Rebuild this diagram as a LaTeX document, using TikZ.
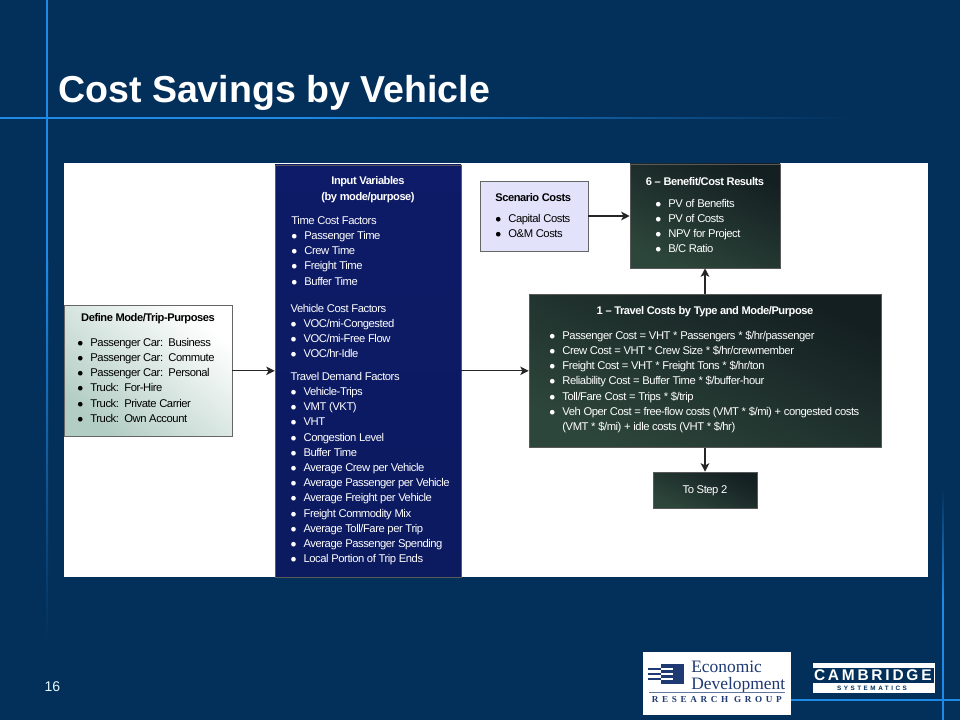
\documentclass[tikz,border=0pt]{standalone}
\usepackage{fontspec}
\setmainfont{Liberation Sans}
\newfontfamily\bodyfont[LetterSpace=-4]{Liberation Sans}
\newfontfamily\edrfont[LetterSpace=40]{Liberation Serif}
\newfontfamily\serffont{Liberation Serif}
\newfontfamily\cambfont[LetterSpace=18]{Liberation Sans}
\newfontfamily\sysfont[LetterSpace=40]{Liberation Sans}
\usetikzlibrary{arrows.meta, positioning}
\definecolor{slidebg}{HTML}{03305A}
\definecolor{rule}{HTML}{1F8AE6}
\definecolor{logonavy}{HTML}{1F3A72}
\definecolor{darktop}{HTML}{141F21}
\definecolor{darkbot}{HTML}{2D463B}
\definecolor{bluetop}{HTML}{0D1B68}
\definecolor{bluemid}{HTML}{1A2CA6}
\definecolor{bluebot}{HTML}{0C1A60}
\definecolor{palegreen}{HTML}{B2CDC3}
\definecolor{lavender}{HTML}{E2E3FB}
\newcommand{\itm}[1]{\makebox[9.2pt][l]{$\bullet$}#1}
\newcommand{\itmcont}[1]{\hspace*{9.2pt}#1}

\begin{document}
\begin{tikzpicture}[
    darkbox/.style={draw=gray!70!black, top color=darktop, bottom color=darkbot, shading angle=-25, inner sep=0pt},
    bluebox/.style={draw=gray!70!black, top color=bluetop, middle color=bluemid, bottom color=bluebot, inner sep=0pt},
    greenbox/.style={draw=gray!80!black, top color=white, bottom color=palegreen, shading angle=-40, inner sep=0pt},
    lavbox/.style={draw=gray!80!black, fill=lavender, inner sep=0pt},
    head/.style={font=\bodyfont\fontsize{7.9}{11.4}\selectfont\bfseries, align=center, text=#1, inner sep=0pt},
    listtxt/.style={font=\bodyfont\fontsize{8}{10.8}\selectfont, align=left, anchor=north west, text=#1, inner sep=0pt},
    arr/.style={-{Stealth[length=6pt, width=6pt, inset=1.5pt]}, line width=0.9pt, black!85},
]

% Background and rules
\fill[slidebg] (0, 0) rectangle (24, 18);
\fill[rule] (1.15, 18) rectangle (1.2, 11.5);
\shade[top color=rule, bottom color=slidebg] (1.15, 11.5) rectangle (1.2, 2);
\fill[rule] (0, 15.07) rectangle (7.5, 15.02);
\shade[left color=rule, right color=slidebg] (7.5, 15.06) rectangle (21.3, 15.03);
\shade[bottom color=rule, top color=slidebg] (23.56, 3) rectangle (23.59, 5.8);
\fill[rule] (23.56, 0) rectangle (23.59, 3);
\fill[rule] (19.5, 0.515) rectangle (24, 0.485);

% Title
\node[font=\fontsize{26.7}{30}\selectfont\bfseries, text=white, anchor=west, inner sep=0pt] (title) at (1.45, 15.68) {Cost Savings by Vehicle};
\node[font=\fontsize{10}{12}\selectfont, text=white!90!cyan, inner sep=0pt] (pagenum) at (1.31, 0.83) {16};

% White panel
\node[fill=white, minimum width=21.6cm, minimum height=10.35cm, inner sep=0pt] (panel) at (12.4, 8.75) {};

% Boxes
\node[greenbox, minimum width=4.2cm, minimum height=3.275cm] (modes) at (3.7, 8.73) {};
\node[bluebox, minimum width=4.65cm, minimum height=10.3cm] (inputs) at (9.2, 8.73) {};
\node[lavbox, minimum width=2.7cm, minimum height=1.75cm] (scenario) at (13.35, 12.6) {};
\node[darkbox, minimum width=3.75cm, minimum height=2.6cm] (results) at (17.625, 12.6) {};
\node[darkbox, minimum width=8.8cm, minimum height=3.825cm] (travel) at (17.625, 8.73) {};
\node[darkbox, minimum width=2.6cm, minimum height=0.9cm, font=\bodyfont\fontsize{8}{10}\selectfont, text depth=0pt, text=white] (nextstep) at (17.625, 5.75) {To Step 2};

% Connectors
\draw[arr] (modes) -- (inputs);
\draw[arr] (inputs) -- (travel);
\draw[arr] (scenario) -- (results);
\draw[arr] (travel) -- (results);
\draw[arr] (travel) -- (nextstep);

% Define Mode box text
\node[head=black] (modeshead) at (3.7, 10.03) {Define Mode/Trip-Purposes};
\node[listtxt=black] (modeslist) at (1.93, 9.55)
    {\itm{Passenger Car:\ \ Business}\\\itm{Passenger Car:\ \ Commute}\\\itm{Passenger Car:\ \ Personal}\\\itm{Truck:\ \ For-Hire}\\\itm{Truck:\ \ Private Carrier}\\\itm{Truck:\ \ Own Account}};

% Input variables text
\node[head=white] (inputshead) at (9.2, 13.25) {Input Variables\\(by mode/purpose)};
\node[listtxt=white] (timelist) at (7.28, 12.6)
    {Time Cost Factors\\\itm{Passenger Time}\\\itm{Crew Time}\\\itm{Freight Time}\\\itm{Buffer Time}};
\node[listtxt=white] (vehlist) at (7.26, 10.4)
    {Vehicle Cost Factors\\\itm{VOC/mi-Congested}\\\itm{VOC/mi-Free Flow}\\\itm{VOC/hr-Idle}};
\node[listtxt=white] (demlist) at (7.26, 8.7)
    {Travel Demand Factors\\\itm{Vehicle-Trips}\\\itm{VMT (VKT)}\\\itm{VHT}\\\itm{Congestion Level}\\\itm{Buffer Time}\\\itm{Average Crew per Vehicle}\\\itm{Average Passenger per Vehicle}\\\itm{Average Freight per Vehicle}\\\itm{Freight Commodity Mix}\\\itm{Average Toll/Fare per Trip}\\\itm{Average Passenger Spending}\\\itm{Local Portion of Trip Ends}};

% Scenario and results text
\node[head=black] (scenariohead) at (13.33, 13.07) {Scenario Costs};
\node[listtxt=black] (scenariolist) at (12.38, 12.65)
    {\itm{Capital Costs}\\\itm{O\&M Costs}};
\node[head=white] (resultshead) at (17.625, 13.47) {6 – Benefit/Cost Results};
\node[listtxt=white] (resultslist) at (16.38, 13.03)
    {\itm{PV of Benefits}\\\itm{PV of Costs}\\\itm{NPV for Project}\\\itm{B/C Ratio}};

% Travel costs text
\node[head=white] (travelhead) at (17.625, 10.22) {1 – Travel Costs by Type and Mode/Purpose};
\node[listtxt=white] (travellist) at (13.73, 9.73)
    {\itm{Passenger Cost = VHT * Passengers * \$/hr/passenger}\\\itm{Crew Cost = VHT * Crew Size * \$/hr/crewmember}\\\itm{Freight Cost = VHT * Freight Tons * \$/hr/ton}\\\itm{Reliability Cost = Buffer Time * \$/buffer-hour}\\\itm{Toll/Fare Cost = Trips * \$/trip}\\\itm{Veh Oper Cost = free-flow costs (VMT * \$/mi) + congested costs}\\\itmcont{(VMT * \$/mi) + idle costs (VHT * \$/hr)}};

% EDR logo
\node[fill=white, minimum width=3.7cm, minimum height=1.575cm, inner sep=0pt] (edrlogo) at (17.925, 0.9125) {};
\fill[logonavy] (16.525, 1.4) rectangle (17.1, 0.9);
\foreach \k in {0, 1, 2} {
    \fill[logonavy] (16.2, 1.30-\k*0.125) rectangle (16.525, 1.24-\k*0.125);
    \fill[white] (16.525, 1.30-\k*0.125) rectangle (16.83, 1.24-\k*0.125);
}
\node[font=\serffont\fontsize{12.4}{14}\selectfont, text=logonavy, anchor=west, inner sep=0pt] (edrone) at (17.275, 1.33) {Economic};
\node[font=\serffont\fontsize{12.4}{14}\selectfont, text=logonavy, anchor=west, inner sep=0pt] (edrtwo) at (17.275, 0.87) {Development};
\draw[logonavy!70, line width=0.5pt] (16.23, 0.68) -- (19.63, 0.68);
\node[font=\edrfont\fontsize{6.5}{8}\selectfont\bfseries, text=logonavy, inner sep=0pt] (edrthree) at (17.92, 0.5) {RESEARCH GROUP};

% Cambridge logo
\node[fill=white, minimum width=3.05cm, minimum height=0.75cm, inner sep=0pt] (camblogo) at (21.85, 1.05) {};
\fill[slidebg] (20.3, 1.3) rectangle (23.35, 0.925);
\node[font=\cambfont\fontsize{11}{12}\selectfont\bfseries, text=white, inner sep=0pt] (cambtext) at (21.82, 1.115) {CAMBRIDGE};
\node[font=\sysfont\fontsize{4.5}{6}\selectfont\bfseries, text=slidebg, inner sep=0pt] (systext) at (21.8, 0.8) {SYSTEMATICS};

\end{tikzpicture}
\end{document}
